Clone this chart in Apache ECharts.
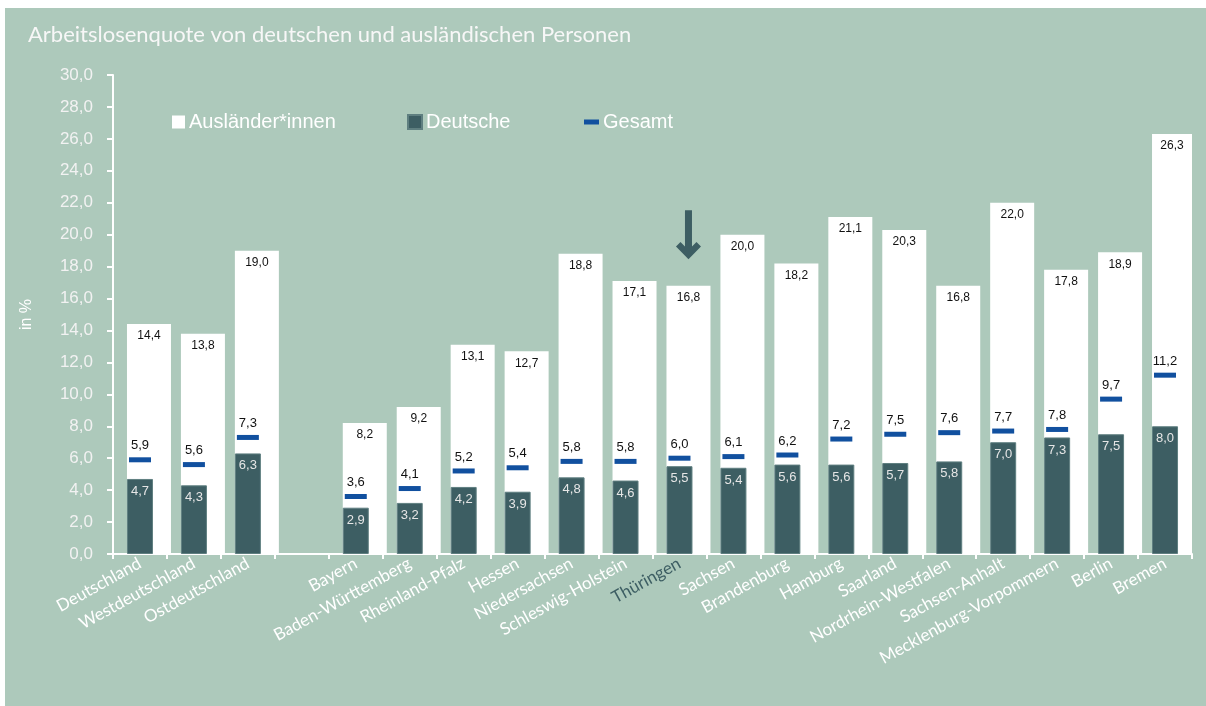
<!DOCTYPE html>
<html>
<head>
<meta charset="utf-8">
<script src="https://cdn.jsdelivr.net/npm/echarts@6/dist/echarts.min.js"></script>
<style>
  html, body { margin: 0; padding: 0; background: #fff; }
  #chart { position: absolute; left: 5px; top: 8px; width: 1201px; height: 698px; background: #adc9bb; }
</style>
</head>
<body>
<div id="chart"></div>
<script>
// categories (empty slot separates the aggregates from the Länder)
const regions = ['Deutschland', 'Westdeutschland', 'Ostdeutschland', '',
  'Bayern', 'Baden-Württemberg', 'Rheinland-Pfalz', 'Hessen', 'Niedersachsen',
  'Schleswig-Holstein', 'Thüringen', 'Sachsen', 'Brandenburg', 'Hamburg',
  'Saarland', 'Nordrhein-Westfalen', 'Sachsen-Anhalt', 'Mecklenburg-Vorpommern',
  'Berlin', 'Bremen'];
const auslaender = [14.4, 13.8, 19.0, null, 8.2, 9.2, 13.1, 12.7, 18.8, 17.1,
  16.8, 20.0, 18.2, 21.1, 20.3, 16.8, 22.0, 17.8, 18.9, 26.3];
const deutsche = [4.7, 4.3, 6.3, null, 2.9, 3.2, 4.2, 3.9, 4.8, 4.6,
  5.5, 5.4, 5.6, 5.6, 5.7, 5.8, 7.0, 7.3, 7.5, 8.0];
const gesamt = [5.9, 5.6, 7.3, null, 3.6, 4.1, 5.2, 5.4, 5.8, 5.8,
  6.0, 6.1, 6.2, 7.2, 7.5, 7.6, 7.7, 7.8, 9.7, 11.2];
const highlight = 'Thüringen';

const dark = '#3d5e63';
const blue = '#11509f';
const fmt = (v) => v.toFixed(1).replace('.', ',');

let chartDom = document.getElementById('chart');
let myChart = echarts.init(chartDom);
let option;

option = {
  animation: false,
  title: {
    text: 'Arbeitslosenquote von deutschen und ausländischen Personen',
    left: 18,
    top: 11,
    textStyle: { color: '#f7f7f7', fontFamily: 'Lato', fontSize: 22, fontWeight: 'normal' }
  },
  legend: [
    {
      data: [{ name: 'Ausländer*innen', icon: 'rect' }],
      left: 162, top: 99, itemWidth: 13, itemHeight: 13,
      textStyle: { color: '#fff', fontFamily: 'Arial', fontSize: 20, padding: [0, 0, 0, -1] }
    },
    {
      data: [{ name: 'Deutsche', icon: 'rect' }],
      left: 397, top: 99, itemWidth: 14, itemHeight: 14,
      textStyle: { color: '#fff', fontFamily: 'Arial', fontSize: 20, padding: [0, 0, 0, -1] }
    },
    {
      data: [{ name: 'Gesamt', icon: 'rect' }],
      left: 574, top: 99, itemWidth: 15, itemHeight: 5,
      textStyle: { color: '#fff', fontFamily: 'Arial', fontSize: 20, padding: [0, 0, 0, -1] }
    }
  ],
  grid: { left: 108, right: 14, top: 67, bottom: 152 },
  xAxis: {
    type: 'category',
    data: regions.map((r) => r === highlight
      ? { value: r, textStyle: { color: dark } }
      : r),
    axisLine: { lineStyle: { color: '#fff', width: 2 } },
    axisTick: { show: true, length: 5, lineStyle: { color: '#fff', width: 2 } },
    axisLabel: {
      interval: 0, rotate: 29, margin: 8,
      color: '#fff', fontFamily: 'Lato', fontSize: 17
    }
  },
  yAxis: {
    type: 'value',
    min: 0, max: 30, interval: 2,
    name: 'in %',
    nameLocation: 'middle',
    nameGap: 78,
    nameTextStyle: { color: '#fff', fontFamily: 'Arial', fontSize: 16 },
    splitLine: { show: false },
    axisLine: { show: true, lineStyle: { color: '#fff', width: 2 } },
    axisTick: { show: true, length: 6, lineStyle: { color: '#fff', width: 2 } },
    axisLabel: {
      color: '#f2f2f2', fontFamily: 'Arial', fontSize: 17, margin: 20,
      formatter: (v) => fmt(v)
    }
  },
  series: [
    {
      name: 'Ausländer*innen',
      type: 'bar',
      data: auslaender,
      barWidth: 44,
      barGap: '-100%',
      itemStyle: { color: '#ffffff' },
      label: {
        show: true, position: 'insideTop', distance: 6,
        color: '#111', fontFamily: 'Arial', fontSize: 12,
        formatter: (p) => fmt(p.value)
      },
      markPoint: {
        silent: true,
        symbol: 'path://M8.5 0 L15.5 0 L15.5 36 L20 31.5 L24.5 36 L12 48.5 L-0.5 36 L4 31.5 L8.5 36 Z',
        symbolSize: [25, 49],
        itemStyle: { color: dark, opacity: 1 },
        label: { show: false },
        data: [{ coord: [highlight, 20.0] }]
      }
    },
    {
      name: 'Deutsche',
      type: 'bar',
      data: deutsche,
      barWidth: 26,
      itemStyle: { color: dark, borderColor: '#5f7f80', borderWidth: 1 },
      label: {
        show: true, position: 'insideTop', distance: 6,
        color: '#e6e6e6', fontFamily: 'Arial', fontSize: 13,
        formatter: (p) => fmt(p.value)
      }
    },
    {
      name: 'Gesamt',
      type: 'scatter',
      data: gesamt,
      symbol: 'rect',
      symbolSize: [22, 5],
      itemStyle: { color: blue, opacity: 1 },
      label: {
        show: true, position: 'top', distance: 5,
        color: '#111', fontFamily: 'Arial', fontSize: 13,
        formatter: (p) => fmt(p.value)
      }
    }
  ]
};

option && myChart.setOption(option);
</script>
</body>
</html>
